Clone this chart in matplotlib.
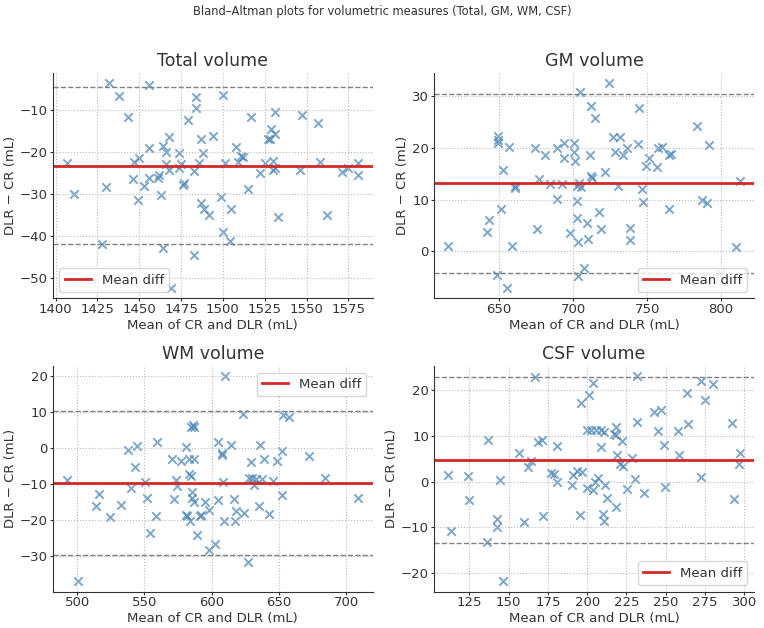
import numpy as np
import matplotlib
matplotlib.use("Agg")
import matplotlib.pyplot as plt
from matplotlib.ticker import MultipleLocator

# ---- data (mean of CR & DLR, DLR - CR) ----
total_mean = [1407, 1411, 1428, 1430, 1432, 1438, 1443, 1446, 1447, 1449, 1450, 1453,
              1456, 1456, 1456, 1461, 1462, 1463, 1464, 1466, 1466, 1468, 1468, 1474,
              1474, 1475, 1476, 1477, 1479, 1469, 1464, 1483, 1484, 1484, 1486, 1487,
              1487, 1488, 1483, 1489, 1492, 1494, 1499, 1500, 1501, 1500, 1504, 1505,
              1508, 1509, 1511, 1512, 1515, 1517, 1522, 1525, 1527, 1528, 1529, 1530,
              1530, 1531, 1531, 1531, 1533, 1546, 1547, 1557, 1558, 1562, 1571, 1575,
              1581, 1581]
total_diff = [-22.8, -30.1, -41.9, -28.5, -3.7, -6.7, -11.8, -26.5, -22.4, -31.5, -21.5, -28.1,
              -4.1, -19.1, -26.4, -26.4, -25.6, -30.3, -18.7, -20.2, -23.0, -24.4, -16.5, -20.4,
              -24.0, -23.0, -28.0, -27.5, -12.5, -52.5, -43.0, -24.6, -9.7, -7.1, -22.8, -32.2,
              -17.1, -20.4, -44.5, -33.6, -35.0, -16.3, -30.9, -6.6, -22.8, -39.1, -41.3, -33.6,
              -18.9, -22.4, -21.0, -21.2, -29.0, -11.8, -25.0, -22.8, -17.1, -17.1, -14.7, -22.2,
              -24.4, -10.6, -24.0, -15.8, -35.6, -24.4, -11.4, -13.1, -22.4, -35.2, -24.8, -23.8,
              -22.8, -25.6]

gm_mean = [615.8, 641.7, 643.0, 648.6, 649.5, 649.5, 649.5, 651.4, 652.9, 655.2, 656.5, 658.8,
           660.6, 661.0, 674.5, 675.5, 676.8, 681.3, 684.7, 689.0, 689.2, 692.6, 693.7, 694.1,
           698.2, 700.5, 700.9, 701.6, 702.5, 702.9, 702.7, 703.4, 703.2, 704.3, 704.7, 705.6,
           707.7, 709.2, 709.9, 711.5, 711.9, 712.4, 712.8, 714.6, 717.3, 718.9, 721.8, 724.5,
           726.8, 728.6, 730.4, 731.8, 734.0, 736.5, 738.5, 738.5, 743.9, 744.6, 746.6, 747.5,
           749.3, 751.6, 756.5, 757.4, 760.1, 764.6, 765.1, 766.0, 784.0, 787.2, 790.3, 792.1,
           799.5, 810.1, 812.4]
gm_diff = [0.95, 3.7, 6.0, -4.6, 22.2, 21.5, 20.9, 8.1, 15.8, -7.1, 20.2, 0.95,
           12.6, 12.2, 20.0, 4.3, 13.9, 18.7, 13.0, 10.2, 20.0, 13.0, 21.0, 18.0,
           3.5, 21.0, 19.2, 17.4, 9.8, 6.5, 12.7, 1.8, -4.8, 13.3, 30.7, 12.4,
           -3.3, 5.4, 2.4, 18.7, 14.6, 28.0, 14.1, 25.8, 7.7, 4.3, 15.4, 32.5,
           22.0, 19.2, 12.7, 22.0, 18.6, 20.0, 4.6, 2.2, 20.8, 27.7, 12.1, 9.5,
           16.5, 18.1, 16.2, 19.9, 20.2, 18.6, 8.1, 18.9, 24.2, 9.9, 9.3, 20.5,
           -4.1, 0.8, 13.5]

wm_mean = [492.6, 500.5, 514.1, 516.3, 524.3, 532.2, 537.6, 540.3, 543.3, 544.6, 550.2, 552.2,
           554.5, 558.9, 559.2, 570.5, 571.8, 573.8, 574.5, 577.0, 581.2, 581.0, 581.9, 582.9,
           583.4, 583.7, 584.7, 585.0, 585.4, 585.6, 585.9, 586.6, 586.6, 587.1, 589.1, 591.6,
           592.3, 595.3, 597.8, 597.8, 602.2, 604.5, 604.5, 607.4, 607.7, 608.4, 608.9, 610.1,
           614.1, 616.6, 617.6, 617.8, 624.0, 623.5, 626.7, 627.7, 629.2, 629.9, 631.7, 632.7,
           634.9, 636.1, 637.4, 639.1, 642.6, 645.8, 649.0, 652.0, 652.5, 653.0, 657.9, 672.8,
           684.4, 709.2]
wm_diff = [-9.0, -37.1, -16.1, -12.7, -19.1, -15.8, -0.6, -11.2, -5.4, 0.7, -9.4, -13.8,
           -23.7, -18.8, 1.7, -2.9, -14.1, -8.8, -10.5, -3.6, 0.3, -18.5, -18.8, -7.3,
           -2.9, -20.2, 5.8, -7.8, -13.9, -12.1, 6.3, -2.9, 5.8, -14.9, -24.1, -19.0,
           -18.7, -15.0, -17.2, -28.3, -26.6, 1.6, -14.5, -2.0, -1.3, -9.4, -20.4, 20.0,
           0.9, -14.1, -20.2, -17.5, -18.1, 9.5, -31.7, -8.3, -4.0, -8.4, -10.2, -8.5,
           -16.2, 0.8, -8.6, -3.1, -18.4, -9.2, -3.6, -13.0, -0.9, 9.2, 8.8, -2.2,
           -8.3, -14.0]

csf_mean = [111.7, 113.3, 124.4, 125.0, 136.9, 136.4, 144.5, 142.6, 142.6, 146.2, 156.4, 159.5,
            162.3, 164.0, 166.5, 168.4, 171.2, 172.2, 176.9, 178.6, 180.5, 181.1, 190.5, 191.1,
            193.4, 196.0, 195.6, 197.0, 199.6, 200.2, 201.3, 202.3, 203.8, 203.8, 204.9, 205.5,
            207.0, 208.7, 209.1, 210.8, 210.2, 210.6, 211.4, 212.9, 216.9, 218.2, 218.2, 218.9,
            218.2, 221.0, 221.9, 222.7, 225.5, 228.8, 230.3, 231.6, 231.6, 236.3, 242.7, 244.8,
            247.2, 248.6, 249.5, 257.8, 258.3, 263.6, 264.2, 272.5, 272.5, 274.8, 279.9, 292.2,
            293.3, 296.5, 296.9]
csf_diff = [1.5, -10.7, 1.2, -4.0, 9.2, -13.2, 0.3, -8.1, -9.8, -21.8, 6.3, -8.9,
            3.3, 4.6, 22.9, 8.8, 9.2, -7.6, 2.0, 1.8, 7.8, 0.0, -0.7, 1.5,
            2.3, 17.2, -7.3, 2.2, 11.4, -1.3, 18.9, 11.3, 21.7, -1.8, 0.0, 11.3,
            0.9, 11.3, 7.7, 11.0, -7.0, -8.6, -0.7, -3.6, 10.5, 12.1, 10.3, 5.9,
            -5.6, 4.0, 9.0, 3.4, -1.5, 5.1, 0.7, 13.1, 23.1, -2.5, 15.2, 11.2,
            15.7, 8.0, -1.1, 11.1, 5.9, 19.4, 12.6, 1.0, 22.0, 17.9, 21.5, 12.8,
            -3.8, 4.0, 6.4]

titles = ["Total volume", "GM volume", "WM volume", "CSF volume"]
# mean difference and limits of agreement
mean_diffs = [-23.4, 13.2, -9.6, 4.7]
loa_upper = [-4.7, 30.4, 10.3, 22.9]
loa_lower = [-42.1, -4.1, -29.8, -13.5]
legend_locs = ["lower left", "lower right", "upper right", "lower right"]
x_steps = [25, 50, 50, 25]

txt = "#333333"
plt.rcParams.update({
    "font.family": "DejaVu Sans",
    "font.size": 9.5,
    "text.color": txt,
    "axes.labelcolor": txt,
    "axes.edgecolor": txt,
    "xtick.color": txt,
    "ytick.color": txt,
    "axes.titlesize": 12.5,
    "axes.titlepad": 5,
    "axes.labelsize": 9.5,
    "axes.labelpad": 2,
    "xtick.labelsize": 9.5,
    "ytick.labelsize": 9.5,
    "xtick.major.size": 2,
    "ytick.major.size": 2,
    "xtick.major.pad": 1.5,
    "ytick.major.pad": 1.5,
})

fig, axes = plt.subplots(2, 2, figsize=(7.64, 6.28), dpi=100)
data = [(total_mean, total_diff), (gm_mean, gm_diff), (wm_mean, wm_diff), (csf_mean, csf_diff)]

for i, ax in enumerate(axes.flat):
    m, d = data[i]
    ax.scatter(m, d, marker="x", color="steelblue", alpha=0.7, s=36, linewidths=1.4)
    ax.axhline(mean_diffs[i], color="#d62728", lw=2, label="Mean diff")
    ax.axhline(loa_upper[i], color="gray", ls="--", lw=1)
    ax.axhline(loa_lower[i], color="gray", ls="--", lw=1)
    ax.set_title(titles[i])
    ax.set_xlabel("Mean of CR and DLR (mL)")
    ax.set_ylabel("DLR \u2212 CR (mL)")
    ax.xaxis.set_major_locator(MultipleLocator(x_steps[i]))
    ax.yaxis.set_major_locator(MultipleLocator(10))
    ax.grid(True, ls=":", color="#bbbbbb", lw=0.8)
    ax.spines["top"].set_visible(False)
    ax.spines["right"].set_visible(False)
    ax.legend(loc=legend_locs[i], fontsize=9.5)

fig.suptitle("Bland\u2013Altman plots for volumetric measures (Total, GM, WM, CSF)",
             fontsize=9.2, y=0.992, fontstretch="condensed")
fig.subplots_adjust(left=0.069, right=0.987, top=0.884, bottom=0.058, wspace=0.19, hspace=0.30)
fig.savefig("out.png", dpi=100)
